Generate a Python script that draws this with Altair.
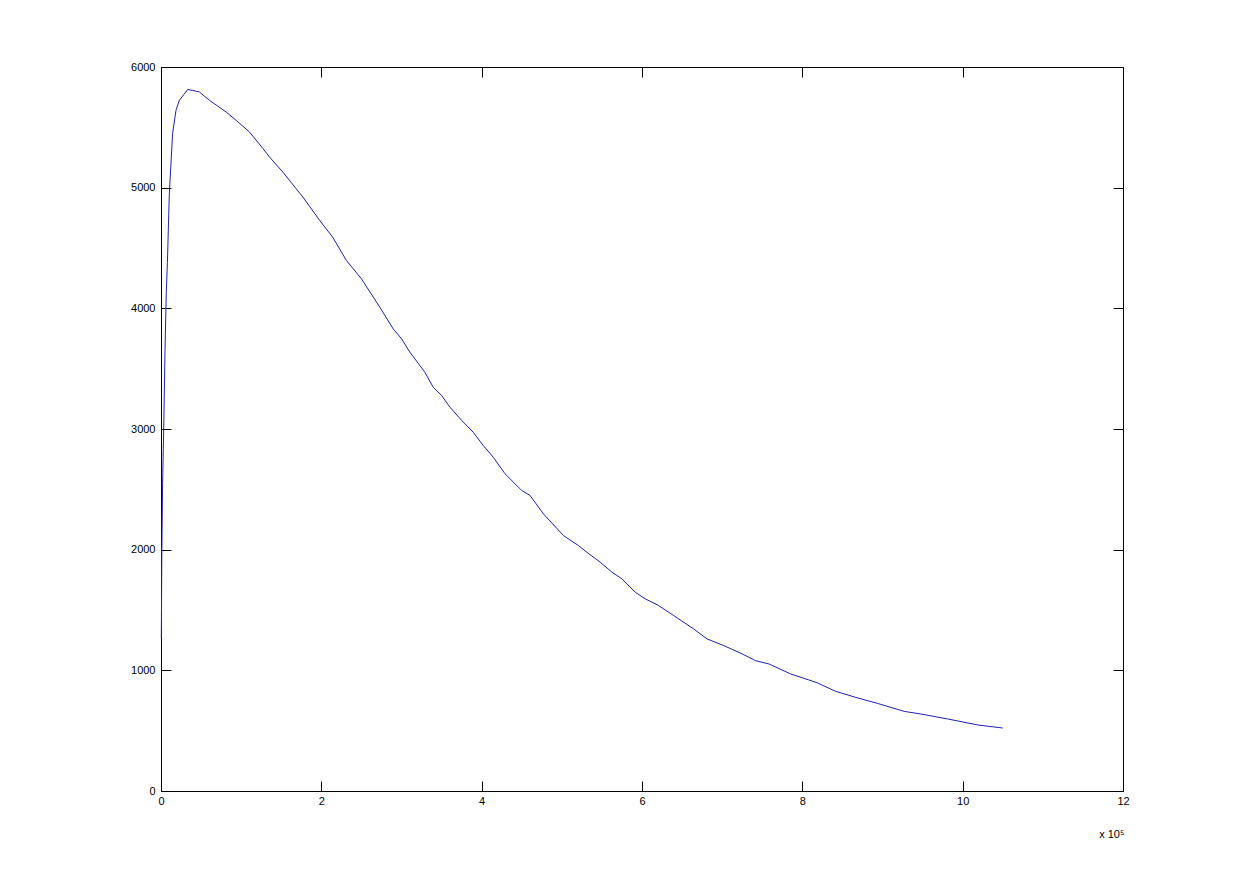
import altair as alt
import pandas as pd

# x values in units of 1e5 (axis shows "x 10^5")
x_vals = [0.004, 0.01, 0.02, 0.035, 0.05, 0.066, 0.08, 0.104, 0.145, 0.1875, 0.229,
          0.3325, 0.39, 0.479, 0.604, 0.8125, 0.9375, 1.104, 1.27, 1.354, 1.52, 1.77,
          1.979, 2.141, 2.3125, 2.5, 2.729, 2.895, 3.0, 3.104, 3.291, 3.395, 3.5,
          3.604, 3.75, 3.895, 4.02, 4.145, 4.291, 4.5, 4.604, 4.77, 5.02, 5.2075,
          5.3125, 5.479, 5.625, 5.75, 5.916, 6.041, 6.2075, 6.395, 6.645, 6.8125,
          7.02, 7.25, 7.416, 7.5825, 7.854, 8.0825, 8.1875, 8.416, 8.666, 8.9375,
          9.27, 9.479, 9.8125, 10.19, 10.5]
y_vals = [1263, 1950, 2550, 3050, 3650, 4130, 4380, 4953, 5451, 5642, 5724,
          5813, 5807, 5793, 5724, 5627, 5558, 5461, 5326, 5254, 5129, 4922,
          4729, 4590, 4397, 4245, 4010, 3831, 3748, 3637, 3471, 3347, 3278,
          3181, 3071, 2973, 2863, 2766, 2629, 2490, 2449, 2297, 2117, 2034,
          1978, 1896, 1813, 1758, 1647, 1592, 1537, 1454, 1343, 1260,
          1205, 1136, 1080, 1053, 970, 920, 896, 826, 776, 726,
          660, 638, 597, 547, 522]

x_ticks = [0, 2, 4, 6, 8, 10, 12]
y_ticks = [0, 1000, 2000, 3000, 4000, 5000, 6000]

df = pd.DataFrame({"x": x_vals, "y": y_vals})

FONT = "Liberation Sans"
xscale = alt.Scale(domain=[0, 12], nice=False, zero=False)
yscale = alt.Scale(domain=[0, 6000], nice=False, zero=False)

common_axis = dict(domain=False, grid=False, tickSize=10, offset=-10, tickColor="black",
                   tickWidth=1, labelFont=FONT, labelFontSize=11, labelColor="black")

base = alt.Chart(df).mark_line(color="#2020b0", strokeWidth=1).encode(
    x=alt.X("x:Q", scale=xscale,
            axis=alt.Axis(values=x_ticks, orient="bottom", labelPadding=4, format="d",
                          title="x 10⁵", titleFont=FONT, titleFontSize=11,
                          titleFontWeight="normal", titleColor="black",
                          titleAnchor="end", titleAlign="right", titleBaseline="alphabetic",
                          titleX=963, titleY=56, labelFlush=False, **common_axis)),
    y=alt.Y("y:Q", scale=yscale,
            axis=alt.Axis(values=y_ticks, orient="left", labelPadding=6, title=None,
                          format="d", **common_axis)),
)

mirror = alt.Chart(df).mark_line(opacity=0).encode(
    x=alt.X("x:Q", scale=xscale,
            axis=alt.Axis(values=x_ticks, orient="top", labels=False, title=None,
                          **common_axis)),
    y=alt.Y("y:Q", scale=yscale,
            axis=alt.Axis(values=y_ticks, orient="right", labels=False, title=None,
                          **common_axis)),
)

chart = alt.layer(base, mirror).resolve_axis(x="independent", y="independent").properties(
    width=962, height=724,
    autosize=alt.AutoSizeParams(type="none"),
    padding={"left": 153, "top": 59, "right": 100, "bottom": 70},
    background="white",
).configure_view(stroke="black", strokeWidth=1)

chart.save("out.html", embed_options={"renderer": "svg", "actions": False})
